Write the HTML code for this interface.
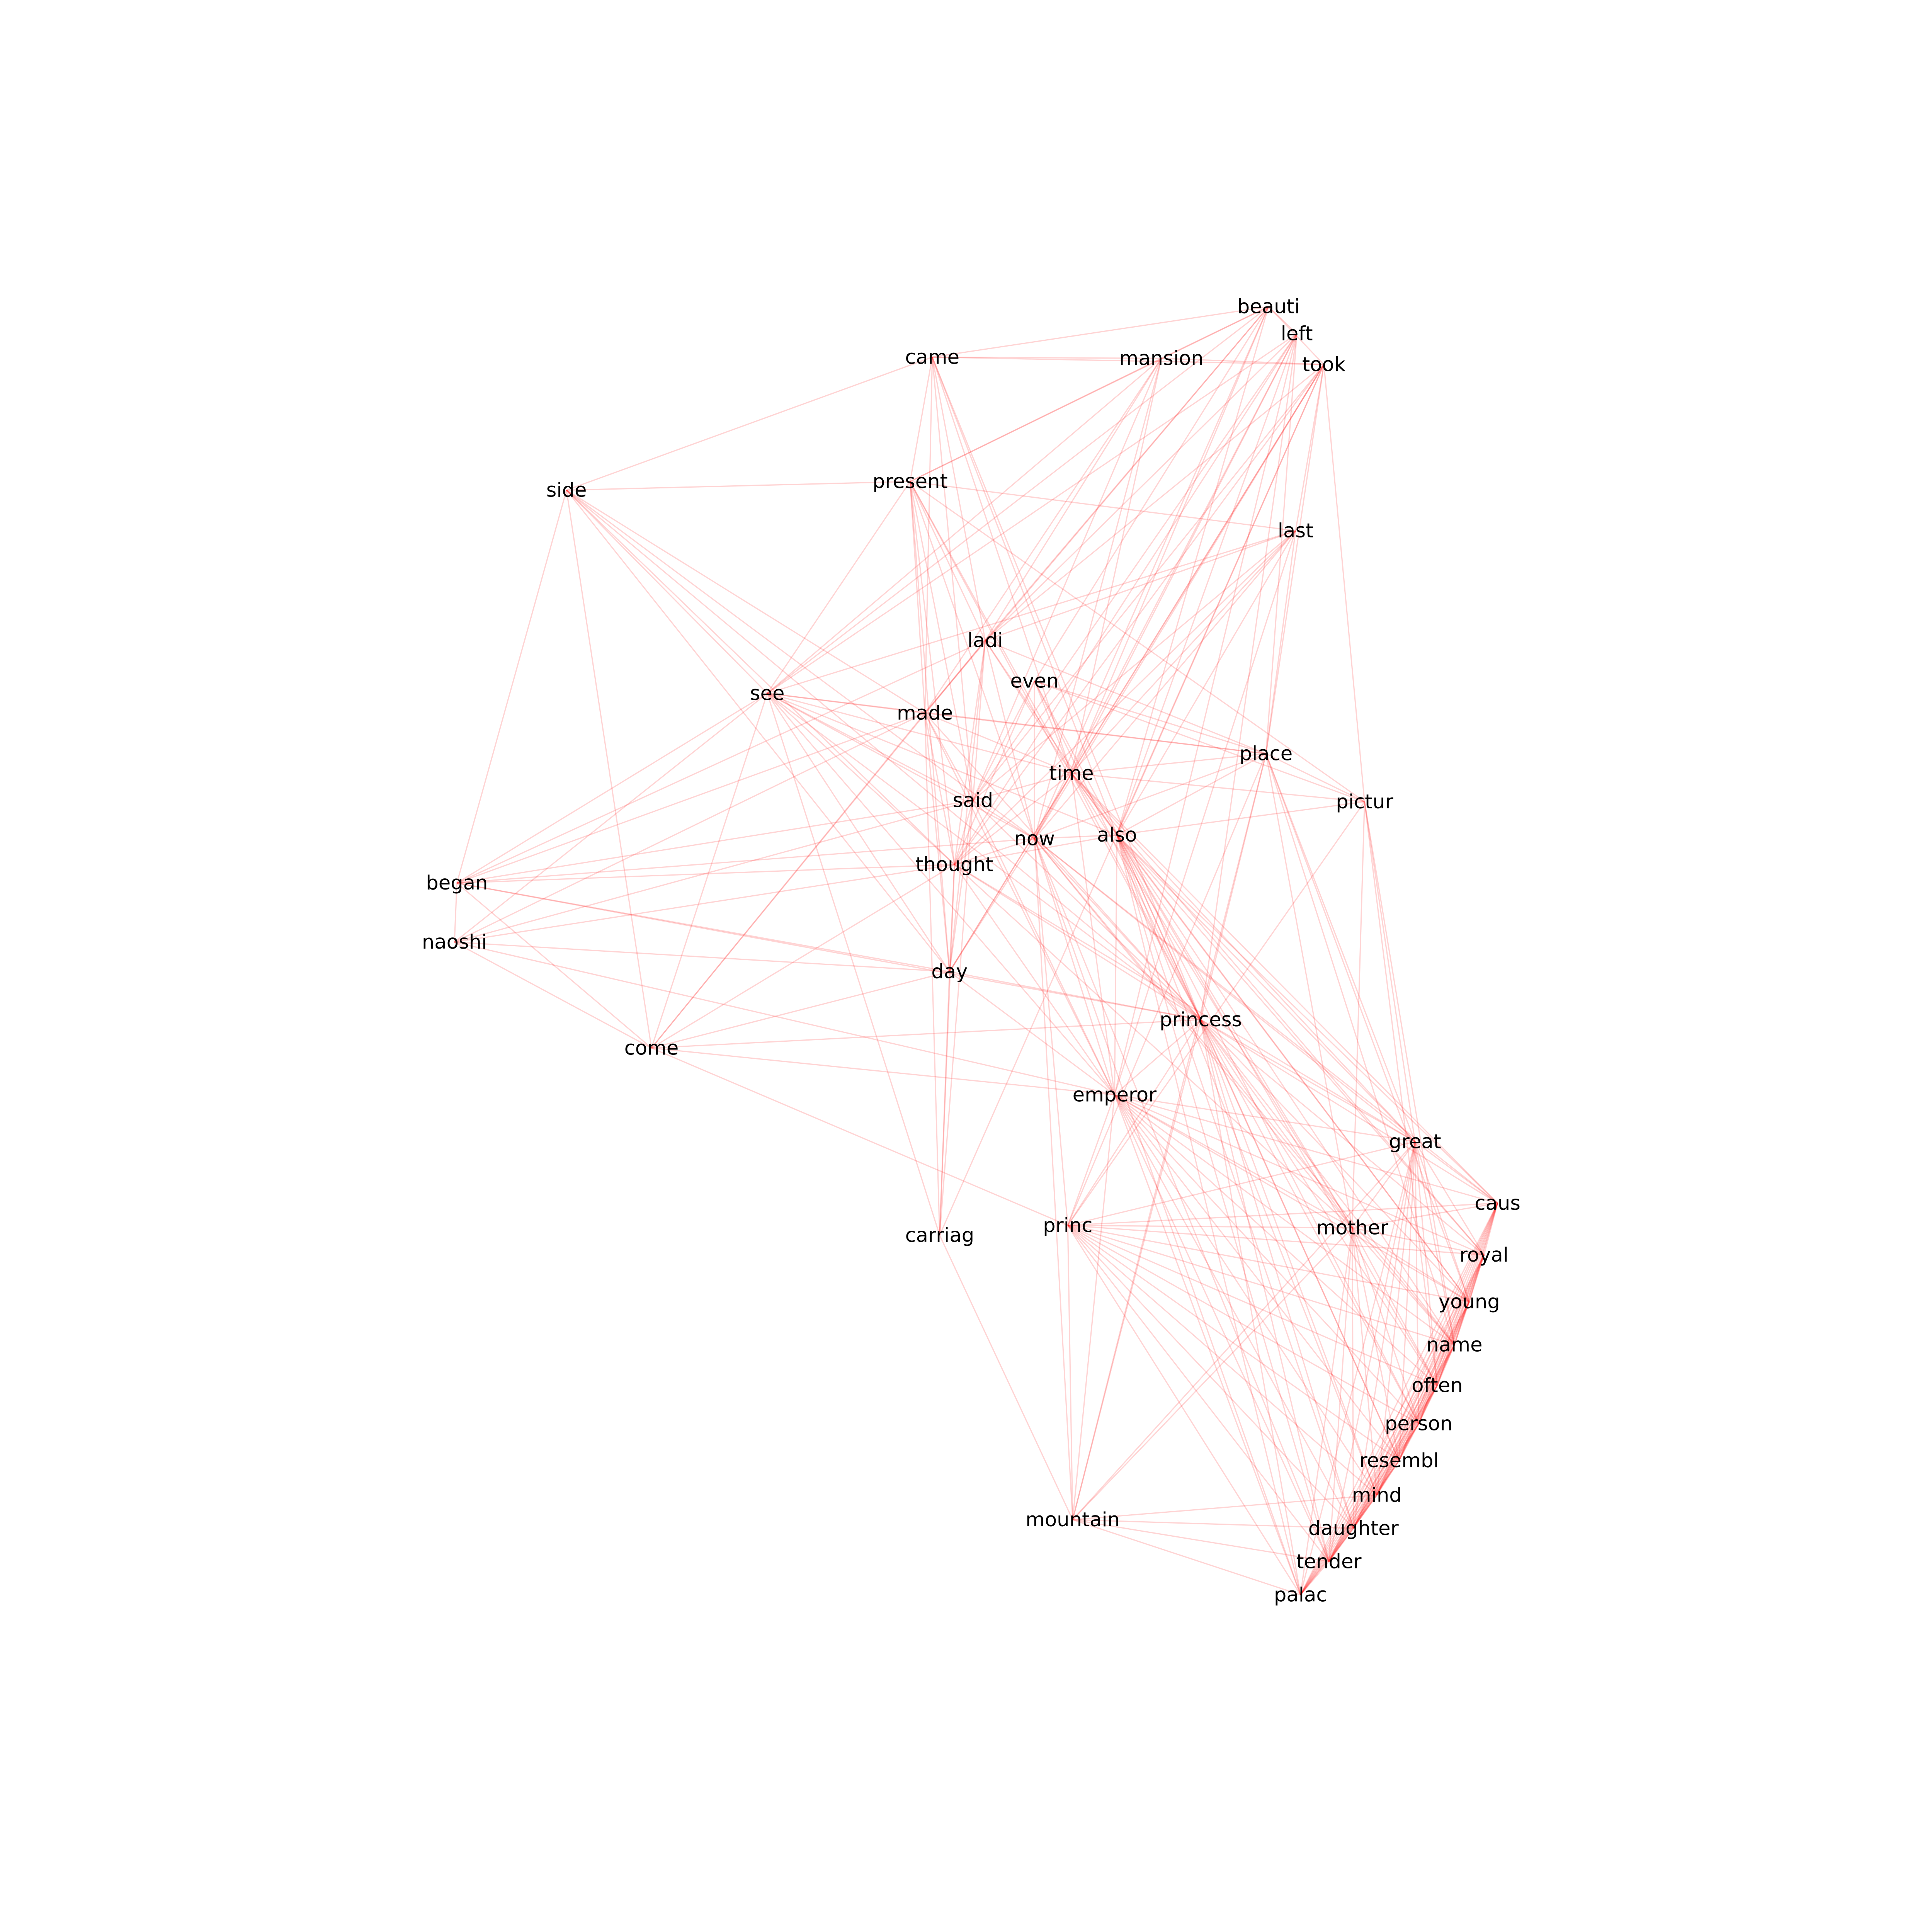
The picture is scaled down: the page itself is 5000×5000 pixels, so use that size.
<!DOCTYPE html>
<html>
<head>
<meta charset="utf-8">
<style>
  html,body{margin:0;padding:0;background:#fff;}
  svg{display:block;}
</style>
</head>
<body>
<svg id="chart" width="5000" height="5000" viewBox="0 0 1562.5 1562.5" xmlns="http://www.w3.org/2000/svg">
  <g id="edges"></g>
  <g id="nodes"></g>
</svg>
<script>
const nodeNames = ["beauti","left","took","came","mansion","side","present","last","ladi","even","see","made","place","time","pictur","said","also","now","thought","began","naoshi","day","princess","come","emperor","great","caus","carriag","princ","mother","royal","young","name","often","person","resembl","mind","daughter","tender","palac","mountain"];
const nodeX = [1030,1053,1075,757,943,460,739,1052,800,840,623,751,1028,870,1108,790,907,840,775,371,369,771,975,529,905,1149,1216,763,867,1098,1205,1193,1181,1167,1152,1136,1118,1099,1079,1056,871];
const nodeY = [249,271,296,290,291,398,391,431,520,553,563,579,612,628,651,650,678,681,702,717,765,789,828,851,889,927,977,1003,995,997,1019,1057,1092,1125,1156,1186,1214,1241,1268,1295,1234];

const adjacency = {
  came:"beauti mansion took side present ladi made time said princess also",
  beauti:"left mansion took ladi even time also now see made present",
  left:"ladi time now also place see said princess emperor thought",
  took:"mansion ladi time now also last pictur said thought day carriag place",
  mansion:"see made ladi time said present now",
  side:"present see made began come thought now day princess",
  present:"see ladi made time said thought day last pictur now princess",
  last:"see ladi place time also said now thought emperor",
  see:"began naoshi made time now also said thought day come princess emperor place carriag",
  ladi:"made said now also place time day thought began come",
  even:"time now also place thought said princess pictur",
  made:"began naoshi come time said thought day princess emperor place carriag",
  place:"pictur time also now great mother name young princess princ mountain",
  time:"also now thought day princess emperor great mother caus royal young pictur said",
  pictur:"also great mother name often princ",
  said:"now thought day began naoshi emperor princess carriag",
  also:"now princess emperor great caus royal young name often person resembl mind daughter tender palac mother thought",
  now:"thought day princess emperor great mother caus name palac tender princ mountain began",
  thought:"day began naoshi come princess emperor carriag great mother",
  began:"naoshi come day princess",
  naoshi:"come day emperor",
  day:"carriag princess come emperor",
  princess:"emperor great caus royal young name often person resembl mind daughter tender palac mother princ come mountain",
  come:"emperor princ",
  emperor:"great caus royal young name often person resembl mind daughter tender palac mother princ mountain",
  great:"caus mother royal young name often person resembl mind daughter tender palac princ mountain",
  caus:"royal young name often person resembl mind daughter tender palac mother princ",
  princ:"mother royal young name often person resembl mind daughter tender palac mountain",
  mother:"royal young name often person resembl mind daughter tender palac mountain",
  royal:"young name often person resembl mind daughter tender palac",
  young:"name often person resembl mind daughter tender palac",
  name:"often person resembl mind daughter tender palac",
  often:"person resembl mind daughter tender palac",
  person:"resembl mind daughter tender palac",
  resembl:"mind daughter tender palac",
  mind:"daughter tender palac",
  daughter:"tender palac",
  tender:"palac",
  mountain:"palac tender daughter mind carriag"
};

const NS = "http://www.w3.org/2000/svg";
const sx = v => v*0.996, sy = v => v*0.996;
const idx = {};
nodeNames.forEach((n,i)=>idx[n]=i);
const eg = document.getElementById('edges');
Object.keys(adjacency).forEach(a=>{
  adjacency[a].split(' ').forEach(b=>{
    const i=idx[a], j=idx[b];
    if(i===undefined||j===undefined) return;
    const l=document.createElementNS(NS,'line');
    l.setAttribute('x1',sx(nodeX[i]));l.setAttribute('y1',sy(nodeY[i]));
    l.setAttribute('x2',sx(nodeX[j]));l.setAttribute('y2',sy(nodeY[j]));
    l.setAttribute('stroke','#ff0000');l.setAttribute('stroke-opacity','0.17');l.setAttribute('stroke-width','1');
    
    
    eg.appendChild(l);
  });
});
const ng = document.getElementById('nodes');
nodeNames.forEach((n,i)=>{
  const t=document.createElementNS(NS,'text');
  t.setAttribute('x',sx(nodeX[i]));t.setAttribute('y',sy(nodeY[i]));
  t.setAttribute('text-anchor','middle');t.setAttribute('dominant-baseline','central');
  t.setAttribute('font-family','"DejaVu Sans","Liberation Sans",sans-serif');
  t.setAttribute('font-size','16');t.setAttribute('fill','#000');
  t.textContent=n;
  
  
  ng.appendChild(t);
});
</script>
</body>
</html>
